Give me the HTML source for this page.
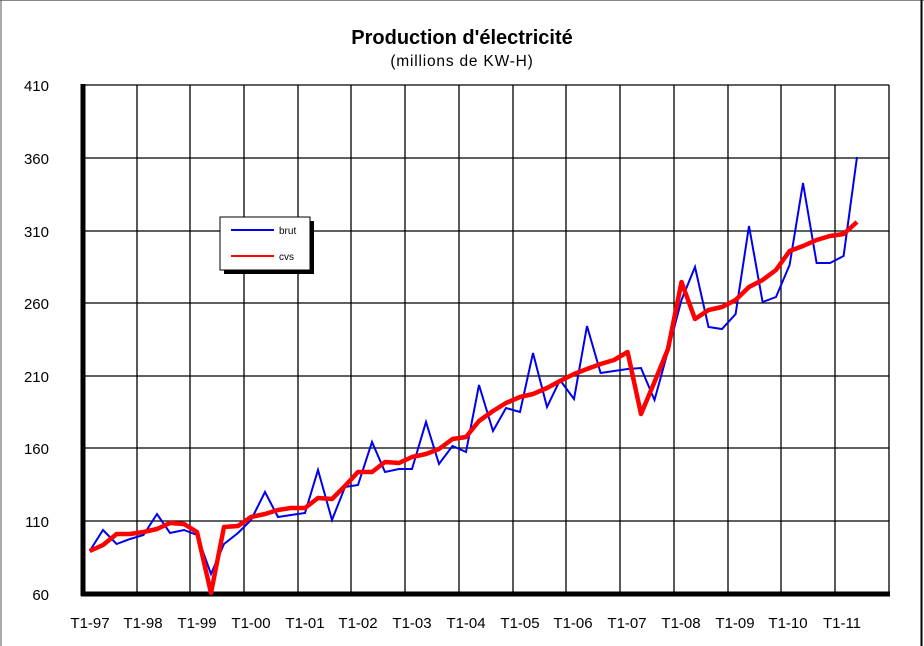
<!DOCTYPE html>
<html><head><meta charset="utf-8"><style>
html,body{margin:0;padding:0;background:#fff;}
svg{display:block;font-family:"Liberation Sans",Arial,sans-serif;}
</style></head><body>
<svg width="924" height="646" viewBox="0 0 924 646" xmlns="http://www.w3.org/2000/svg">
<rect x="0" y="0" width="924" height="646" fill="#fff"/>
<line x1="0" y1="0.5" x2="924" y2="0.5" stroke="#888" stroke-width="1"/>
<line x1="921.5" y1="0" x2="921.5" y2="646" stroke="#000" stroke-width="2"/>
<line x1="1" y1="0" x2="1" y2="646" stroke="#555" stroke-width="1"/>
<text x="462" y="44" text-anchor="middle" font-size="20" font-weight="bold">Production d'électricité</text>
<text x="462" y="66" text-anchor="middle" font-size="15.5" letter-spacing="0.8">(millions de KW-H)</text>
<g stroke="#000" stroke-width="1.3" fill="none">
<line x1="83" y1="85" x2="889" y2="85"/>
<line x1="83" y1="158" x2="889" y2="158"/>
<line x1="83" y1="231" x2="889" y2="231"/>
<line x1="83" y1="303" x2="889" y2="303"/>
<line x1="83" y1="376" x2="889" y2="376"/>
<line x1="83" y1="448" x2="889" y2="448"/>
<line x1="83" y1="521" x2="889" y2="521"/>
<line x1="137" y1="85" x2="137" y2="593"/>
<line x1="190" y1="85" x2="190" y2="593"/>
<line x1="244" y1="85" x2="244" y2="593"/>
<line x1="298" y1="85" x2="298" y2="593"/>
<line x1="351" y1="85" x2="351" y2="593"/>
<line x1="405" y1="85" x2="405" y2="593"/>
<line x1="459" y1="85" x2="459" y2="593"/>
<line x1="513" y1="85" x2="513" y2="593"/>
<line x1="566" y1="85" x2="566" y2="593"/>
<line x1="620" y1="85" x2="620" y2="593"/>
<line x1="674" y1="85" x2="674" y2="593"/>
<line x1="728" y1="85" x2="728" y2="593"/>
<line x1="781" y1="85" x2="781" y2="593"/>
<line x1="835" y1="85" x2="835" y2="593"/>
<line x1="889" y1="85" x2="889" y2="593"/>
</g>
<line x1="83" y1="84" x2="83" y2="596" stroke="#000" stroke-width="5"/>
<line x1="81" y1="594" x2="890" y2="594" stroke="#000" stroke-width="5"/>
<g font-size="15" text-anchor="end" fill="#000">
<text x="49" y="91">410</text><text x="49" y="164">360</text><text x="49" y="237">310</text>
<text x="49" y="309">260</text><text x="49" y="382">210</text><text x="49" y="454">160</text>
<text x="49" y="527">110</text><text x="49" y="600">60</text>
</g>
<g font-size="15" text-anchor="middle" fill="#000">
<text x="90" y="628">T1-97</text><text x="143" y="628">T1-98</text><text x="197" y="628">T1-99</text>
<text x="251" y="628">T1-00</text><text x="305" y="628">T1-01</text><text x="358" y="628">T1-02</text>
<text x="412" y="628">T1-03</text><text x="466" y="628">T1-04</text><text x="520" y="628">T1-05</text>
<text x="573" y="628">T1-06</text><text x="627" y="628">T1-07</text><text x="681" y="628">T1-08</text>
<text x="735" y="628">T1-09</text><text x="788" y="628">T1-10</text><text x="842" y="628">T1-11</text>
</g>
<polyline fill="none" stroke="#0000ee" stroke-width="2" stroke-linejoin="miter" points="89.7,551 103,530 116.6,544 130,539 143.5,535 157,514 170,533 184,530 197,535 211,574 224,544 238,533 251,520 265,492 278,517 291,515 305,513 318,470 332,520 345,487 358,485 372,442 385,472 399,469 412,469 426,422 439,464 452.5,446 466,452 479,385 493,431 506,408 520,412 533,353 547,407 560,380 574,399 587,326 600.6,373 614,371 627.6,369 641,368 654.5,400 668,351 681.5,300 695,267 708.5,327 722,329 735.6,314 749,226 762.6,302 776,297 789.6,265 803,183 816.6,263 830,263 843.6,256 857,157"/>
<polyline fill="none" stroke="#ff0000" stroke-width="4.5" stroke-linejoin="round" points="89.7,551 103,545 116.6,534 130,534 143.5,532 157,529 170,523 184,524 197,532 211,593 224,527 238,526 251,517 265,514 278,510 291,508 305,508 318,498 332,499 345,486 358,472 372,472 385,462 399,463 412,457 426,454 439,449 452.5,439 466,437 479,421 493,411 506,403 520,397 533,394 547,388 560,381 574,374 587,369 600.6,364 614,360 627.6,352 641,414 654.5,382 668,349 681.5,282 695,319 708.5,310 722,307 735.6,300 749,287 762.6,280 776,270 789.6,251 803,246 816.6,240 830,236 843.6,234 857,222"/>
<rect x="224" y="221" width="90" height="53" fill="#000"/>
<rect x="220" y="217" width="90" height="53" fill="#fff" stroke="#000" stroke-width="1"/>
<line x1="231" y1="230" x2="274" y2="230" stroke="#0000ee" stroke-width="2"/>
<line x1="231" y1="256" x2="274" y2="256" stroke="#ff0000" stroke-width="2"/>
<text x="279" y="234" font-size="10">brut</text>
<text x="279" y="260" font-size="10">cvs</text>
</svg>
</body></html>
